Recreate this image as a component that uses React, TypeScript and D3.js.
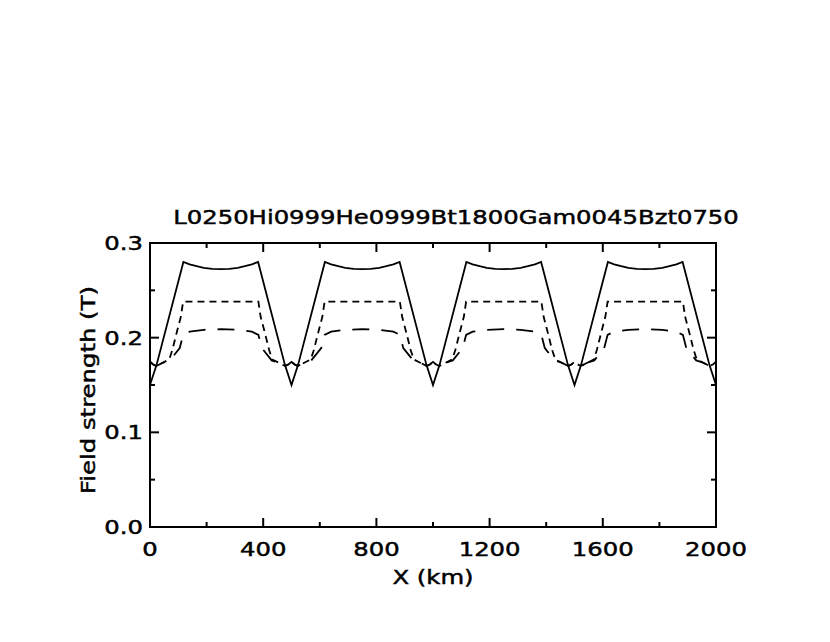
import React from "react";
import * as d3 from "d3";

const titleText = "L0250Hi0999He0999Bt1800Gam0045Bzt0750";
const xLabel = "X (km)";
const yLabel = "Field strength (T)";
const xMajorTicks = [0, 400, 800, 1200, 1600, 2000];
const xMinorTicks = [200, 600, 1000, 1400, 1800];
const yMajorTicks = [0.0, 0.1, 0.2, 0.3];
const yMinorTicks = [0.05, 0.15, 0.25];

// Solid curve
const solidX = [0, 23, 118, 140, 165, 190, 220, 250, 280, 310, 335, 360, 382, 477,
  500, 523, 618, 640, 665, 690, 720, 750, 780, 810, 835, 860, 882, 977,
  1000, 1023, 1118, 1140, 1165, 1190, 1220, 1250, 1280, 1310, 1335, 1360, 1382, 1477,
  1500, 1523, 1618, 1640, 1665, 1690, 1720, 1750, 1780, 1810, 1835, 1860, 1882, 1977, 2000];
const solidY = [0.150, 0.171, 0.280, 0.2775, 0.2755, 0.2738, 0.2727, 0.2723, 0.2727, 0.2738, 0.2755, 0.2775, 0.280, 0.171,
  0.150, 0.171, 0.280, 0.2775, 0.2755, 0.2738, 0.2727, 0.2723, 0.2727, 0.2738, 0.2755, 0.2775, 0.280, 0.171,
  0.150, 0.171, 0.280, 0.2775, 0.2755, 0.2738, 0.2727, 0.2723, 0.2727, 0.2738, 0.2755, 0.2775, 0.280, 0.171,
  0.150, 0.171, 0.280, 0.2775, 0.2755, 0.2738, 0.2727, 0.2723, 0.2727, 0.2738, 0.2755, 0.2775, 0.280, 0.171, 0.150];

// Short-dashed curve
const dashX = [0, 10, 22, 45, 68, 79, 94, 109, 117, 383, 391, 406, 421, 432, 455, 478, 490,
  500, 510, 522, 545, 568, 579, 594, 609, 617, 883, 891, 906, 921, 932, 955, 978, 990,
  1000, 1010, 1022, 1045, 1068, 1079, 1094, 1109, 1117, 1383, 1391, 1406, 1421, 1432, 1455, 1478, 1490,
  1500, 1510, 1522, 1545, 1568, 1579, 1594, 1609, 1617, 1883, 1891, 1906, 1921, 1932, 1955, 1978, 1990, 2000];
const dashY = [0.1745, 0.172, 0.170, 0.1735, 0.177, 0.187, 0.205, 0.222, 0.238, 0.238, 0.222, 0.205, 0.187, 0.177, 0.1735, 0.170, 0.172,
  0.1745, 0.172, 0.170, 0.1735, 0.177, 0.187, 0.205, 0.222, 0.238, 0.238, 0.222, 0.205, 0.187, 0.177, 0.1735, 0.170, 0.172,
  0.1745, 0.172, 0.170, 0.1735, 0.177, 0.187, 0.205, 0.222, 0.238, 0.238, 0.222, 0.205, 0.187, 0.177, 0.1735, 0.170, 0.172,
  0.1745, 0.172, 0.170, 0.1735, 0.177, 0.187, 0.205, 0.222, 0.238, 0.238, 0.222, 0.205, 0.187, 0.177, 0.1735, 0.170, 0.172, 0.1745];

// Long-dashed curve
const longX = [0, 10, 22, 45, 70, 105, 117, 140, 190, 250, 310, 360, 383, 395, 430, 455, 478, 490,
  500, 510, 522, 545, 570, 605, 617, 640, 690, 750, 810, 860, 883, 895, 930, 955, 978, 990,
  1000, 1010, 1022, 1045, 1070, 1105, 1117, 1140, 1190, 1250, 1310, 1360, 1383, 1395, 1430, 1455, 1478, 1490,
  1500, 1510, 1522, 1545, 1570, 1605, 1617, 1640, 1690, 1750, 1810, 1860, 1883, 1895, 1930, 1955, 1978, 1990, 2000];
const longY = [0.1745, 0.172, 0.170, 0.1735, 0.176, 0.189, 0.203, 0.2063, 0.2083, 0.209, 0.2083, 0.2063, 0.203, 0.189, 0.176, 0.1735, 0.170, 0.172,
  0.1745, 0.172, 0.170, 0.1735, 0.176, 0.189, 0.203, 0.2063, 0.2083, 0.209, 0.2083, 0.2063, 0.203, 0.189, 0.176, 0.1735, 0.170, 0.172,
  0.1745, 0.172, 0.170, 0.1735, 0.176, 0.189, 0.203, 0.2063, 0.2083, 0.209, 0.2083, 0.2063, 0.203, 0.189, 0.176, 0.1735, 0.170, 0.172,
  0.1745, 0.172, 0.170, 0.1735, 0.176, 0.189, 0.203, 0.2063, 0.2083, 0.209, 0.2083, 0.2063, 0.203, 0.189, 0.176, 0.1735, 0.170, 0.172, 0.1745];

const W = 830;
const H = 642;
const L = 150, R = 716, T = 243, B = 527;
const FONT = "DejaVu Sans";
const FS = 19;
const SX = 1.28;

function Label(props: { x: number; y: number; anchor: string; text: string; rotate?: number }) {
  const rot = props.rotate ? ` rotate(${props.rotate})` : "";
  return (
    <text
      transform={`translate(${props.x},${props.y})${rot} scale(${SX},1)`}
      textAnchor={props.anchor}
    >
      {props.text}
    </text>
  );
}

export default function App() {
  const x = d3.scaleLinear().domain([0, 2000]).range([L, R]);
  const y = d3.scaleLinear().domain([0, 0.3]).range([B, T]);
  const line = d3.line<[number, number]>().x((d) => x(d[0])).y((d) => y(d[1]));
  const zip = (xs: number[], ys: number[]) => xs.map((v, i) => [v, ys[i]] as [number, number]);

  const majorLen = 9;
  const minorLen = 5;

  return (
    <svg width={W} height={H} style={{ position: "absolute", left: 0, top: 0, background: "#fff" }}>
      <rect x={0} y={0} width={W} height={H} fill="#fff" />
      <g stroke="#000" strokeWidth={1.8} fill="none" strokeLinejoin="miter">
        <path d={line(zip(solidX, solidY)) || ""} />
        <path d={line(zip(dashX, dashY)) || ""} strokeDasharray="7,5" />
        <path d={line(zip(longX, longY)) || ""} strokeDasharray="17,12" />
      </g>
      <g stroke="#000" strokeWidth={2} fill="none">
        <rect x={L} y={T} width={R - L} height={B - T} />
        {xMajorTicks.map((t) => (
          <g key={"xm" + t}>
            <line x1={x(t)} x2={x(t)} y1={B} y2={B - majorLen} />
            <line x1={x(t)} x2={x(t)} y1={T} y2={T + majorLen} />
          </g>
        ))}
        {xMinorTicks.map((t) => (
          <g key={"xn" + t}>
            <line x1={x(t)} x2={x(t)} y1={B} y2={B - minorLen} />
            <line x1={x(t)} x2={x(t)} y1={T} y2={T + minorLen} />
          </g>
        ))}
        {yMajorTicks.map((t) => (
          <g key={"ym" + t}>
            <line x1={L} x2={L + majorLen} y1={y(t)} y2={y(t)} />
            <line x1={R} x2={R - majorLen} y1={y(t)} y2={y(t)} />
          </g>
        ))}
        {yMinorTicks.map((t) => (
          <g key={"yn" + t}>
            <line x1={L} x2={L + minorLen} y1={y(t)} y2={y(t)} />
            <line x1={R} x2={R - minorLen} y1={y(t)} y2={y(t)} />
          </g>
        ))}
      </g>
      <g fontFamily={FONT} fontSize={FS} fill="#000" stroke="#000" strokeWidth={0.45}>
        {xMajorTicks.map((t) => (
          <Label key={"xl" + t} x={x(t)} y={556} anchor="middle" text={String(t)} />
        ))}
        {yMajorTicks.map((t) => (
          <Label key={"yl" + t} x={143} y={y(t) + 7} anchor="end" text={t.toFixed(1)} />
        ))}
        <Label x={(L + R) / 2} y={584} anchor="middle" text={xLabel} />
        <Label x={95} y={390} anchor="middle" text={yLabel} rotate={-90} />
        <Label x={456} y={224} anchor="middle" text={titleText} />
      </g>
    </svg>
  );
}
